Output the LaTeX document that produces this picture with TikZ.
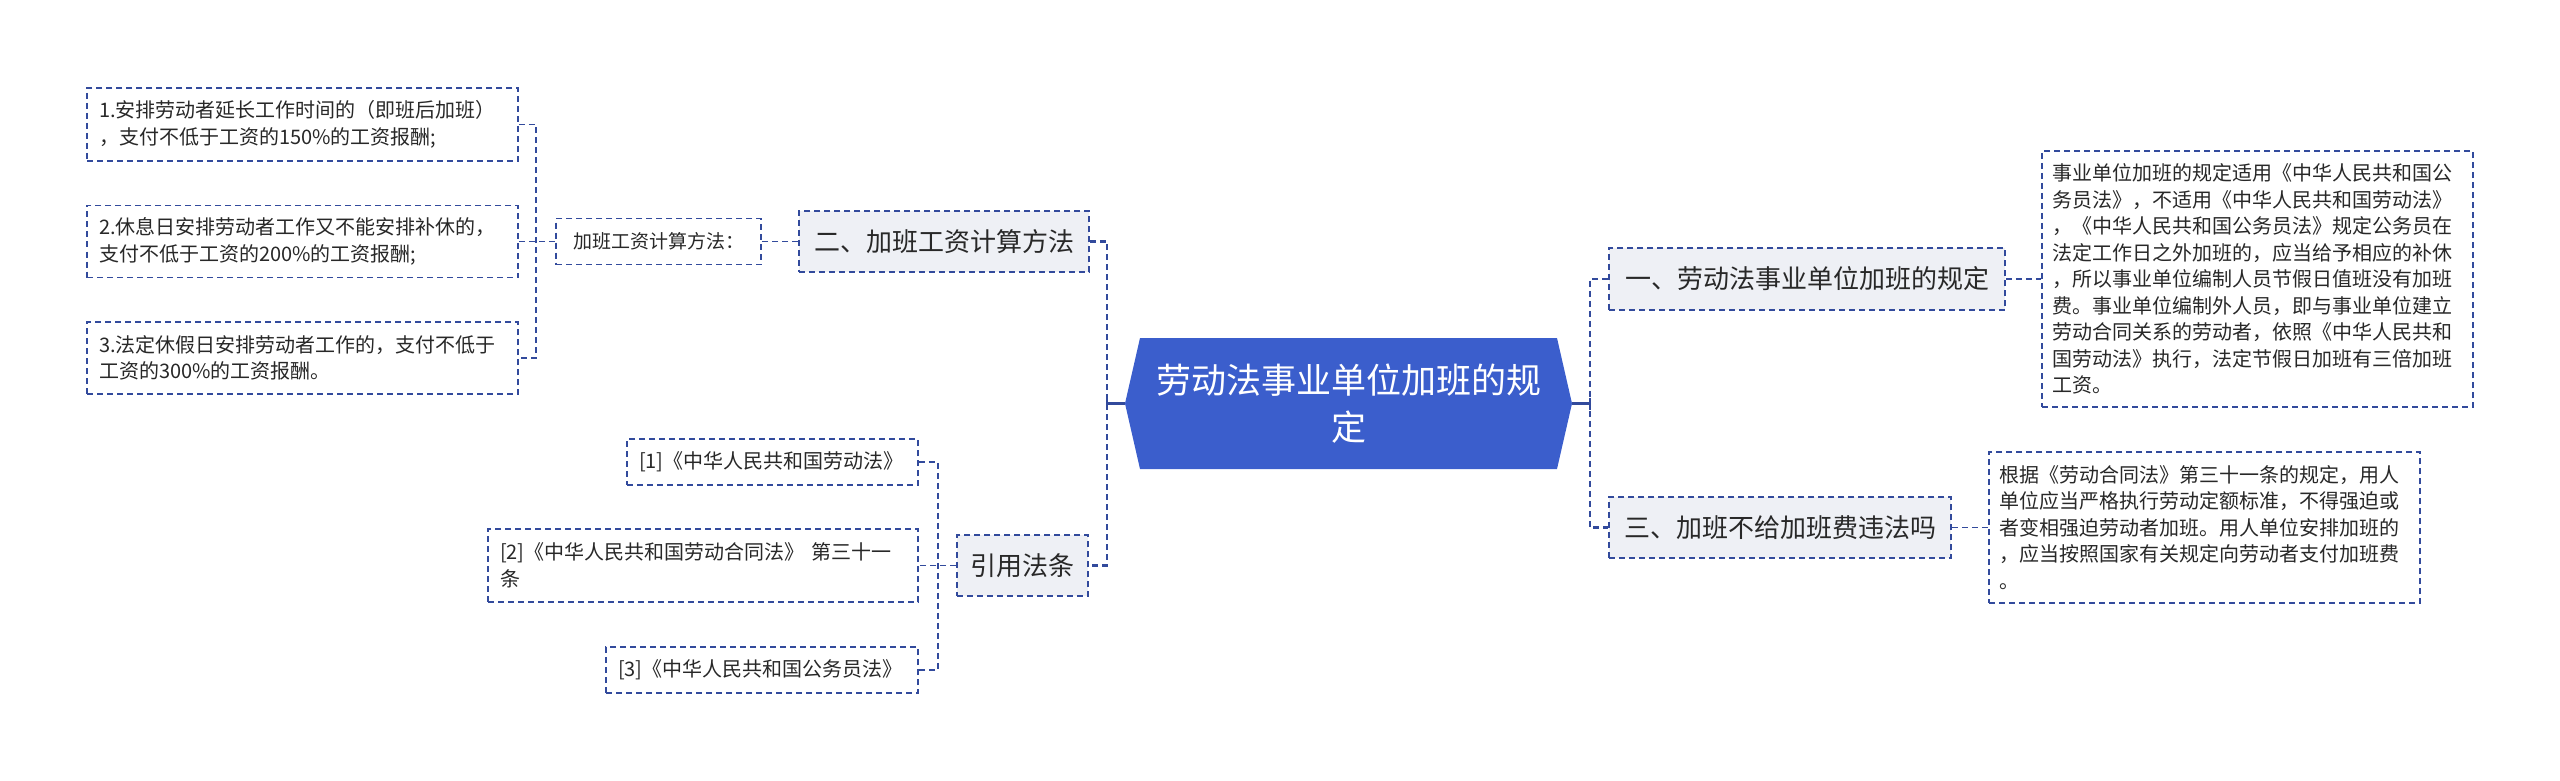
\documentclass[tikz,border=0pt]{standalone}
\usepackage{fontspec}
\setmainfont{Noto Sans CJK SC}
\definecolor{bordc}{RGB}{50,74,156}
\definecolor{lightf}{RGB}{238,240,245}
\definecolor{rootc}{RGB}{59,94,204}
\definecolor{txt}{RGB}{40,40,40}
\tikzset{
  leaf/.style={draw=bordc, line width=1.8pt, dash pattern=on 6pt off 4pt, fill=white,
    font=\fontsize{20}{26.5}\selectfont, text=txt, align=left, inner xsep=12pt, inner ysep=0pt},
  mainbox/.style={draw=bordc, line width=1.8pt, dash pattern=on 6pt off 4pt, fill=lightf,
    font=\fontsize{26}{32}\selectfont, text=txt, inner sep=0pt, align=center},
  conn/.style={draw=bordc, line width=1.8pt, dash pattern=on 6pt off 4pt},
  trunk/.style={draw=bordc, line width=2.5pt, dash pattern=on 6pt off 4pt},
  solidc/.style={draw=bordc, line width=2.5pt}
}
\begin{document}
\begin{tikzpicture}[x=1pt,y=-1pt]
\useasboundingbox (0,0) rectangle (2560,781);
% root
\node[minimum width=447pt, minimum height=131pt, inner sep=0pt, text=white, align=center,
  font=\fontsize{35}{47}\selectfont,
  path picture={\fill[rootc] (path picture bounding box.west) -- ([xshift=15pt]path picture bounding box.north west) -- ([xshift=-15pt]path picture bounding box.north east) -- (path picture bounding box.east) -- ([xshift=-15pt]path picture bounding box.south east) -- ([xshift=15pt]path picture bounding box.south west) -- cycle;}]
  (root) at (1348.5,403.5) {劳动法事业单位加班的规\\定};
% left branch: calc
\node[mainbox, minimum width=290pt, minimum height=61pt] (er) at (944,241.5) {二、加班工资计算方法};
\node[leaf, minimum width=205pt, minimum height=46pt, inner xsep=0pt, align=center, font=\fontsize{19}{25}\selectfont] (calc) at (658.5,241.5) {加班工资计算方法：};
\node[leaf, text width=407pt, minimum height=73pt] (b1) at (302.5,124.5) {1.安排劳动者延长工作时间的（即班后加班）\\，支付不低于工资的150\%的工资报酬;};
\node[leaf, text width=407pt, minimum height=72pt] (b2) at (302.5,241.5) {2.休息日安排劳动者工作又不能安排补休的，\\支付不低于工资的200\%的工资报酬;};
\node[leaf, text width=407pt, minimum height=72pt] (b3) at (302.5,358) {3.法定休假日安排劳动者工作的，支付不低于\\工资的300\%的工资报酬。};
% citations
\node[mainbox, minimum width=131pt, minimum height=61pt] (yin) at (1022.5,565.5) {引用法条};
\node[leaf, text width=267pt, minimum height=46pt] (r1) at (772.5,462) {[1]《中华人民共和国劳动法》};
\node[leaf, text width=406pt, minimum height=73pt] (r2) at (703,565.5) {{[2]}《中华人民共和国劳动合同法》 第三十一\\条};
\node[leaf, text width=288pt, minimum height=46pt] (r3) at (762,670) {[3]《中华人民共和国公务员法》};
% right branch
\node[mainbox, minimum width=396pt, minimum height=62pt] (yi) at (1807,279) {一、劳动法事业单位加班的规定};
\node[mainbox, minimum width=342pt, minimum height=61pt] (san) at (1780,527.5) {三、加班不给加班费违法吗};
\node[leaf, text width=411pt, inner xsep=10pt, minimum height=256pt] (t1) at (2257.5,279) {事业单位加班的规定适用《中华人民共和国公\\务员法》，不适用《中华人民共和国劳动法》\\，《中华人民共和国公务员法》规定公务员在\\法定工作日之外加班的，应当给予相应的补休\\，所以事业单位编制人员节假日值班没有加班\\费。事业单位编制外人员，即与事业单位建立\\劳动合同关系的劳动者，依照《中华人民共和\\国劳动法》执行，法定节假日加班有三倍加班\\工资。};
\node[leaf, text width=411pt, inner xsep=10pt, minimum height=151pt] (t2) at (2204.5,527.5) {根据《劳动合同法》第三十一条的规定，用人\\单位应当严格执行劳动定额标准，不得强迫或\\者变相强迫劳动者加班。用人单位安排加班的\\，应当按照国家有关规定向劳动者支付加班费\\。};
% junctions
\coordinate (jL) at (1107,403.5);
\coordinate (jR) at (1590,403.5);
\coordinate (jC) at (536,241.5);
\coordinate (jT) at (938,565.5);
% connectors
\draw[solidc] (root.west) -- (jL);
\draw[solidc] ([yshift=6pt]jL) -- ([yshift=-6pt]jL);
\draw[trunk] (er.east) -- (er.east -| jL) -- (yin.east -| jL) -- (yin.east);
\draw[solidc] (root.east) -- (jR);
\draw[solidc] ([yshift=6pt]jR) -- ([yshift=-6pt]jR);
\draw[trunk] (yi.west) -- (yi.west -| jR) -- (san.west -| jR) -- (san.west);
\draw[conn] (er.west) -- (calc.east);
\draw[conn] (calc.west) -- (b2.east);
\draw[conn] (b1.east) -- (b1.east -| jC) -- (b3.east -| jC) -- (b3.east);
\draw[conn] (yin.west) -- (r2.east);
\draw[conn] (r1.east) -- (r1.east -| jT) -- (r3.east -| jT) -- (r3.east);
\draw[conn] (yi.east) -- (t1.west);
\draw[conn] (san.east) -- (t2.west);
\end{tikzpicture}
\end{document}
